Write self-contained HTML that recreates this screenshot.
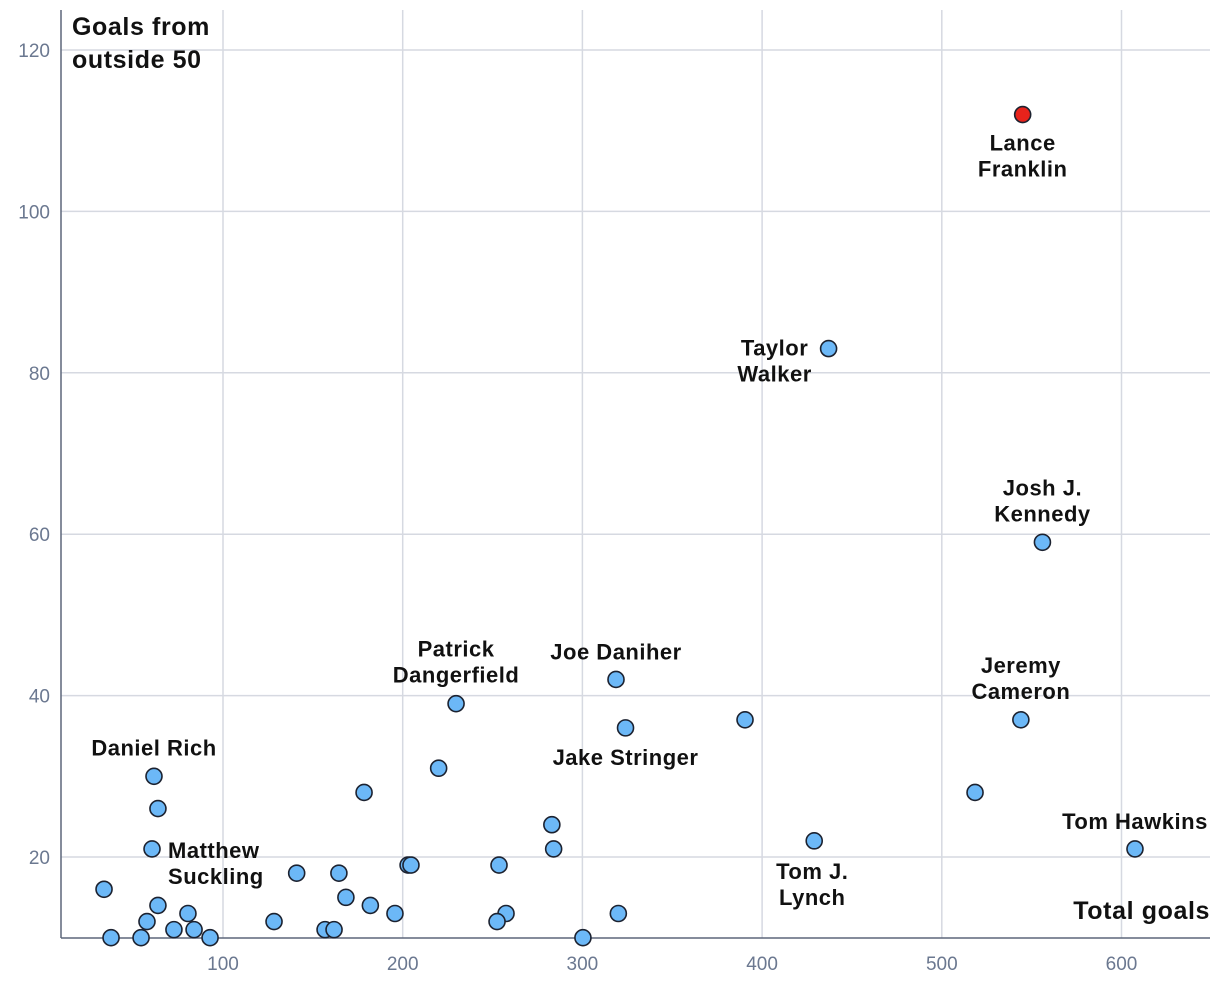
<!DOCTYPE html>
<html><head><meta charset="utf-8"><style>
html,body{margin:0;padding:0;background:#fff;}
svg{display:block;font-family:"Liberation Sans",sans-serif;}
.tick{fill:#6b7890;font-size:19px;}
.lbl{fill:#111;font-size:22px;font-weight:bold;letter-spacing:0.5px;}
</style></head><body>
<svg id="chart" width="1220" height="1008"></svg>
<script>
const xTicks=[100,200,300,400,500,600];
const yTicks=[20,40,60,80,100,120];
const xVals=[545,437,556,544,607.5,429,318.7,324,229.7,61.6,60.5,390.5,518.5,220,178.5,63.8,283,284,203,204.6,253.6,141,164.5,168.4,33.8,63.8,182,80.5,195.7,257.5,320,57.7,128.4,252.5,72.7,83.9,156.8,161.8,37.7,54.4,92.8,300.3];
const yVals=[112,83,59,37,21,22,42,36,39,30,21,37,28,31,28,26,24,21,19,19,19,18,18,15,16,14,14,13,13,13,13,12,12,12,11,11,11,11,10,10,10,10];
const highlight=[0];
const labelNames=[["Lance","Franklin"],["Taylor","Walker"],["Josh J.","Kennedy"],["Jeremy","Cameron"],["Tom Hawkins"],["Tom J.","Lynch"],["Joe Daniher"],["Jake Stringer"],["Patrick","Dangerfield"],["Daniel Rich"],["Matthew","Suckling"]];
const labelDx=[0,-54,0,0,0,-2,0,0,0,0,16];
const labelDy=[41,12,-42,-42,-28,43,-28,29,-42,-29,14];
const labelAnchor=["middle","middle","middle","middle","middle","middle","middle","middle","middle","middle","start"];
const NS="http://www.w3.org/2000/svg";
const svg=document.getElementById('chart');
const X=v=>223+(v-100)*1.797;
const Y=v=>857-(v-20)*8.07;
function el(t,a){const e=document.createElementNS(NS,t);for(const k in a)e.setAttribute(k,a[k]);svg.appendChild(e);return e;}
xTicks.forEach(t=>{
  const l=el('line',{x1:X(t),x2:X(t),y1:10,y2:938,stroke:'#d6d9e1','stroke-width':1.5});
  
  
  const tx=el('text',{x:X(t),y:970,'text-anchor':'middle',class:'tick'});tx.textContent=t;
  
  
});
yTicks.forEach(t=>{
  const l=el('line',{x1:61,x2:1210,y1:Y(t),y2:Y(t),stroke:'#d6d9e1','stroke-width':1.5});
  
  
  const tx=el('text',{x:50,y:Y(t)+7,'text-anchor':'end',class:'tick'});tx.textContent=t;
  
  
});
const ya=el('line',{x1:61,x2:61,y1:10,y2:938,stroke:'#5d677a','stroke-width':1.5});


const xa=el('line',{x1:61,x2:1210,y1:938,y2:938,stroke:'#5d677a','stroke-width':1.5});


xVals.forEach((v,i)=>{
  const c=el('circle',{cx:X(v),cy:Y(yVals[i]),r:8,fill:highlight.includes(i)?'#e8231b':'#6cb8f7',stroke:'#1c2230','stroke-width':1.6});
  
  
});
labelNames.forEach((lines,i)=>{
  const cx=X(xVals[i])+labelDx[i], cy=Y(yVals[i])+labelDy[i];
  const n=lines.length;
  lines.forEach((s,j)=>{
    const t=el('text',{x:cx,y:cy+8+(j-(n-1)/2)*26,'text-anchor':labelAnchor[i],class:'lbl'});
    t.textContent=s;
    
    
  });
});
function title(lines,x,y,anchor,name){lines.forEach((s,j)=>{const t=el('text',{x:x,y:y+j*33,'text-anchor':anchor,class:'lbl',style:'font-size:25px;letter-spacing:0.6px'});t.textContent=s;

});}
title(["Goals from","outside 50"],72,35,'start','y-axis-title');
title(["Total goals"],1210,919,'end','x-axis-title');
</script>
</body></html>
